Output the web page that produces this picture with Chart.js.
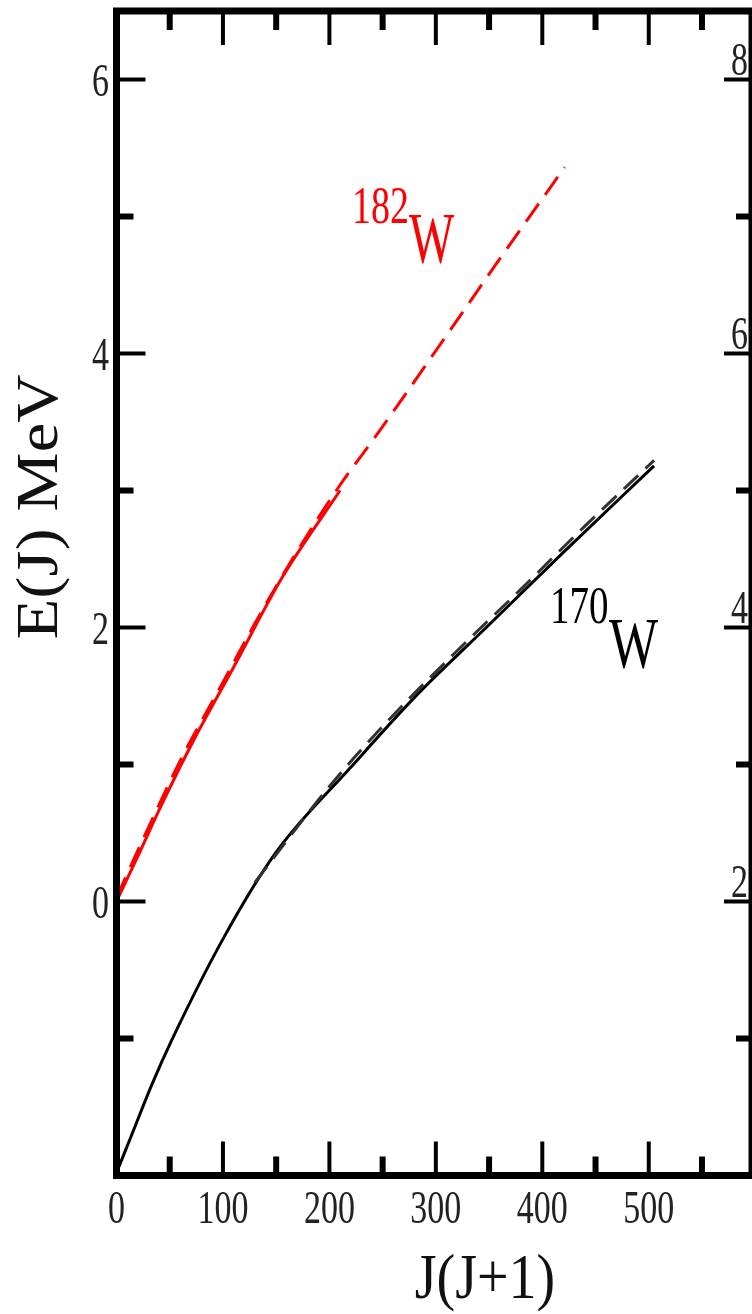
<!DOCTYPE html>
<html>
<head>
<meta charset="utf-8">
<script src="https://cdn.jsdelivr.net/npm/chart.js@4.4.1/dist/chart.umd.min.js"></script>
<style>
  html, body { margin: 0; padding: 0; background: #fff; }
  #wrap { width: 752px; height: 1314px; }
</style>
</head>
<body>
<div id="wrap"><canvas id="c" width="752" height="1314"></canvas></div>
<script>
// 182W: experiment (solid) and calculation (dashed), left axis
const w182ExpX = [0, 6, 20, 42, 72, 110, 156, 210];
const w182ExpE = [0, 0.10, 0.33, 0.70, 1.17, 1.71, 2.37, 3.0];
const w182CalcX = [0, 30, 60, 100, 130, 170, 210, 242, 300, 360, 421];
const w182CalcE = [0.03, 0.54, 1.03, 1.6, 2.03, 2.56, 3.04, 3.38, 4.02, 4.69, 5.36];

// 170W: experiment (solid) and calculation (dashed), right axis
const w170ExpX = [0, 16, 33, 52, 101, 150, 219, 280, 350, 420, 505];
const w170ExpE = [0.02, 0.33, 0.66, 0.99, 1.74, 2.36, 2.97, 3.49, 4.02, 4.55, 5.18];
const w170CalcX = [130, 200, 260, 320, 380, 440, 505];
const w170CalcE = [2.14, 2.84, 3.36, 3.83, 4.28, 4.74, 5.22];

// axis ticks
const xMajor = [100, 200, 300, 400, 500];
const xMinor = [50, 150, 250, 350, 450, 550];
const xLabels = ['0', '100', '200', '300', '400', '500'];
const yMajor = [0, 2, 4, 6];
const yMinor = [-1, 1, 3, 5];
const yLabels = ['0', '2', '4', '6'];
const y2Major = [2, 4, 6, 8];
const y2Minor = [1, 3, 5, 7];
const y2Labels = ['2', '4', '6', '8'];

const SERIF = '"Liberation Serif", "DejaVu Serif", serif';

function pts(xs, ys) { return xs.map((x, i) => ({ x: x, y: ys[i] })); }

function txt(ctx, s, x, y, size, sx, sy, color, align) {
  ctx.save();
  ctx.translate(x, y);
  ctx.scale(sx, sy);
  ctx.font = size + 'px ' + SERIF;
  ctx.fillStyle = color;
  ctx.textAlign = align || 'left';
  ctx.textBaseline = 'alphabetic';
  ctx.fillText(s, 0, 0);
  ctx.restore();
}

const framePlugin = {
  id: 'frame',
  afterDraw(chart) {
    const ctx = chart.ctx;
    const a = chart.chartArea;
    const sx = chart.scales.x, sy = chart.scales.y, sy2 = chart.scales.y2;
    ctx.save();
    ctx.strokeStyle = '#000';
    ctx.lineCap = 'butt';

    // ticks, all pointing inward
    const tick = (x1, y1, x2, y2, w) => {
      ctx.lineWidth = w;
      ctx.beginPath(); ctx.moveTo(x1, y1); ctx.lineTo(x2, y2); ctx.stroke();
    };
    xMajor.forEach(v => {
      const p = sx.getPixelForValue(v);
      tick(p, a.bottom, p, a.bottom - 34, 4);
      tick(p, a.top, p, a.top + 34, 4);
    });
    xMinor.forEach(v => {
      const p = sx.getPixelForValue(v);
      tick(p, a.bottom, p, a.bottom - 19, 6);
      tick(p, a.top, p, a.top + 19, 6);
    });
    yMajor.forEach(v => {
      const p = sy.getPixelForValue(v);
      tick(a.left, p, a.left + 29, p, 4);
    });
    yMinor.forEach(v => {
      const p = sy.getPixelForValue(v);
      tick(a.left, p, a.left + 17, p, 6);
    });
    y2Major.forEach(v => {
      const p = sy2.getPixelForValue(v);
      tick(a.right, p, a.right - 28, p, 4);
    });
    y2Minor.forEach(v => {
      const p = sy2.getPixelForValue(v);
      tick(a.right, p, a.right - 16, p, 6);
    });

    // frame
    ctx.lineWidth = 7;
    ctx.strokeRect(a.left, a.top, a.right - a.left, a.bottom - a.top);

    // tick labels
    xLabels.forEach(s => {
      txt(ctx, s, sx.getPixelForValue(+s), 1223, 34, 1, 1.35, '#222', 'center');
    });
    yLabels.forEach(s => {
      txt(ctx, s, 109, sy.getPixelForValue(+s) + 16, 34, 1, 1.35, '#222', 'right');
    });
    y2Labels.forEach(s => {
      txt(ctx, s, 748, sy2.getPixelForValue(+s) - 5, 34, 1, 1.35, '#222', 'right');
    });

    // axis titles
    txt(ctx, 'J(J+1)', 485, 1298, 56, 1, 1.12, '#111', 'center');
    ctx.save();
    ctx.translate(57, 507);
    ctx.rotate(-Math.PI / 2);
    txt(ctx, 'E(J) MeV', 0, 0, 59, 1.13, 1, '#111', 'center');
    ctx.restore();

    // curve labels
    txt(ctx, '182', 352, 223, 38, 1, 1.4, '#ff0000', 'left');
    txt(ctx, 'W', 409, 262, 48, 1, 1.48, '#ff0000', 'left');
    txt(ctx, '170', 550, 623, 39, 1, 1.35, '#000', 'left');
    txt(ctx, 'W', 609, 667, 52, 1, 1.37, '#000', 'left');
    ctx.restore();
  }
};

new Chart(document.getElementById('c'), {
  type: 'line',
  data: {
    datasets: [
      { data: pts(w182CalcX, w182CalcE), yAxisID: 'y', borderColor: '#ff0000', borderWidth: 3, borderDash: [22, 11] },
      { data: pts(w182ExpX, w182ExpE), yAxisID: 'y', borderColor: '#ff0000', borderWidth: 3 },
      { data: pts(w170CalcX, w170CalcE), yAxisID: 'y2', borderColor: '#333', borderWidth: 3, borderDash: [20, 10] },
      { data: pts(w170ExpX, w170ExpE), yAxisID: 'y2', borderColor: '#000', borderWidth: 3 }
    ]
  },
  options: {
    responsive: false,
    devicePixelRatio: 1,
    animation: false,
    layout: { padding: { left: 116.5, top: 11, right: 0, bottom: 138.5 } },
    elements: {
      point: { radius: 0 },
      line: { fill: false, cubicInterpolationMode: 'monotone' }
    },
    plugins: { legend: { display: false }, tooltip: { enabled: false } },
    scales: {
      x: { type: 'linear', min: 0, max: 597, display: false },
      y: { type: 'linear', min: -2, max: 6.5, display: false },
      y2: { type: 'linear', position: 'right', min: 0, max: 8.5, display: false }
    }
  },
  plugins: [framePlugin]
});
</script>
</body>
</html>
